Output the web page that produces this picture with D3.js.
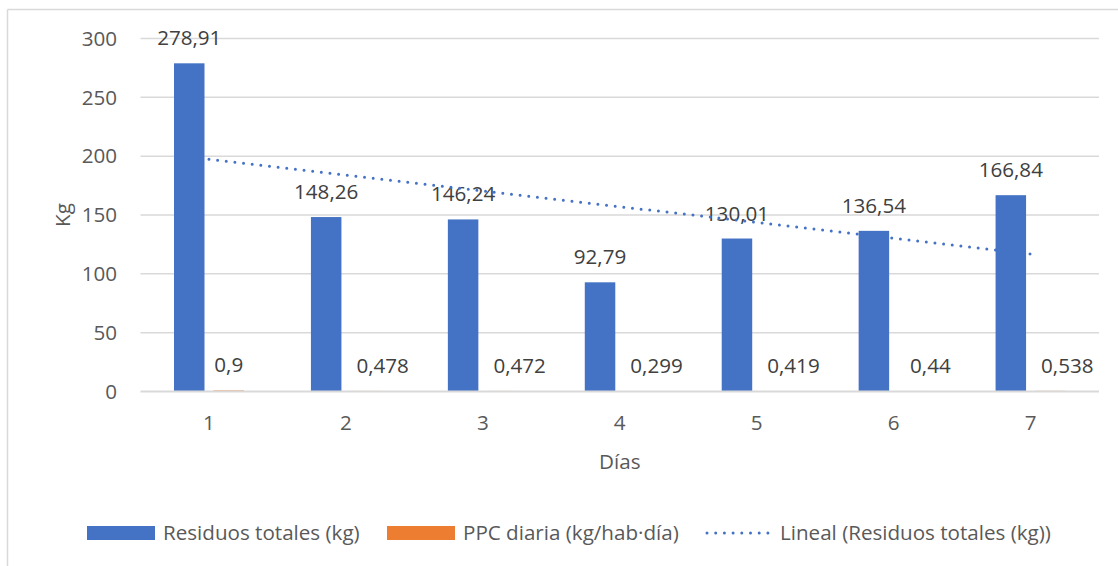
<!DOCTYPE html>
<html>
<head>
<meta charset="utf-8">
<script src="https://cdn.jsdelivr.net/npm/d3@7"></script>
<style>
  html, body { margin: 0; padding: 0; background: #fff; }
  svg { display: block; }
  text { font-family: "Open Sans", "Liberation Sans", sans-serif; fill: #595959; }
  text.lbl { fill: #404040; }
</style>
</head>
<body>
<svg id="chart" width="1118" height="566"></svg>
<script>
// ---- data ----
const days = ["1", "2", "3", "4", "5", "6", "7"];
const residuos = [278.91, 148.26, 146.24, 92.79, 130.01, 136.54, 166.84];
const ppc = [0.9, 0.478, 0.472, 0.299, 0.419, 0.44, 0.538];
const yTicks = [0, 50, 100, 150, 200, 250, 300];
const seriesNames = ["Residuos totales (kg)", "PPC diaria (kg/hab·día)"];
const trendName = "Lineal (Residuos totales (kg))";
const xTitle = "Días";
const yTitle = "Kg";

// ---- layout / style ----
const W = 1118, H = 566;
const plot = { left: 140.5, right: 1099, top: 38.5, bottom: 391.5 };
const blue = "#4472C4", orange = "#ED7D31", grid = "#D9D9D9";
const fs = 20.6;
// horizontal nudges of the PPC data labels as placed in the original chart
const ppcLabelDx = [0, 17, 17, 17, 17, 17, 17];

const svg = d3.select("#chart");

// chart frame (left and top edges visible)
svg.append("line").attr("x1", 7.5).attr("x2", 7.5).attr("y1", 9.5).attr("y2", H)
  .attr("stroke", grid).attr("stroke-width", 1.5);
svg.append("line").attr("x1", 7.5).attr("x2", W).attr("y1", 9.5).attr("y2", 9.5)
  .attr("stroke", grid).attr("stroke-width", 1.5);

const x = d3.scaleBand().domain(days).range([plot.left, plot.right]).padding(0);
const xs = d3.scaleBand().domain(seriesNames)
  .range([33.5, 103.5]).paddingInner(0.228).paddingOuter(0);
const y = d3.scaleLinear().domain([0, 300]).range([plot.bottom, plot.top]);

// gridlines (except baseline, drawn later above bars)
svg.append("g").selectAll("line").data(yTicks.filter(d => d !== 0)).join("line")
  .attr("x1", plot.left).attr("x2", plot.right)
  .attr("y1", d => y(d)).attr("y2", d => y(d))
  .attr("stroke", grid).attr("stroke-width", 1.5);

// y axis labels
const fmtTick = d3.format("d");
svg.append("g").selectAll("text").data(yTicks).join("text")
  .attr("x", 117).attr("y", d => y(d)).attr("dy", "0.35em")
  .attr("text-anchor", "end").attr("font-size", fs).text(d => fmtTick(d));

// x axis labels
svg.append("g").selectAll("text").data(days).join("text")
  .attr("x", d => x(d) + x.bandwidth() / 2).attr("y", 430)
  .attr("text-anchor", "middle").attr("font-size", fs).text(d => d);

// axis titles
svg.append("text").attr("x", (plot.left + plot.right) / 2).attr("y", 469)
  .attr("text-anchor", "middle").attr("font-size", fs).text(xTitle);
svg.append("text")
  .attr("transform", `translate(70,${(plot.top + plot.bottom) / 2}) rotate(-90)`)
  .attr("text-anchor", "middle").attr("font-size", fs).text(yTitle);

// bars
const series = [
  { name: seriesNames[0], values: residuos, color: blue, dx: days.map(() => 0) },
  { name: seriesNames[1], values: ppc, color: orange, dx: ppcLabelDx }
];
const fmtNum = v => String(v).replace(".", ",");

const barLayer = svg.append("g");
const labelLayer = svg.append("g");
series.forEach(s => {
  barLayer.append("g").selectAll("rect").data(days).join("rect")
    .attr("x", (d, i) => x(d) + xs(s.name))
    .attr("width", xs.bandwidth())
    .attr("y", (d, i) => y(s.values[i]))
    .attr("height", (d, i) => y(0) - y(s.values[i]))
    .attr("fill", s.color);
  labelLayer.append("g").selectAll("text").data(days).join("text")
    .attr("class", "lbl")
    .attr("x", (d, i) => x(d) + xs(s.name) + xs.bandwidth() / 2 + s.dx[i])
    .attr("y", (d, i) => y(s.values[i]) - 18)
    .attr("text-anchor", "middle").attr("font-size", fs)
    .text((d, i) => fmtNum(s.values[i]));
});

// category axis baseline on top of bars
svg.append("line").attr("x1", plot.left).attr("x2", plot.right)
  .attr("y1", y(0)).attr("y2", y(0))
  .attr("stroke", grid).attr("stroke-width", 2.2);

// linear trendline (least squares on residuos)
const xsIdx = days.map((d, i) => i + 1);
const mx = d3.mean(xsIdx), my = d3.mean(residuos);
const slope = d3.sum(xsIdx, (xi, i) => (xi - mx) * (residuos[i] - my)) /
              d3.sum(xsIdx, xi => (xi - mx) ** 2);
const icpt = my - slope * mx;
const first = days[0], last = days[days.length - 1];
const trendPts = [
  [x(first) + x.bandwidth() / 2, y(icpt + slope * 1)],
  [x(last) + x.bandwidth() / 2, y(icpt + slope * days.length)]
];
svg.append("path").attr("d", d3.line()(trendPts))
  .attr("fill", "none").attr("stroke", blue).attr("stroke-width", 3)
  .attr("stroke-linecap", "round").attr("stroke-dasharray", "0 8.7");

// legend
const ly = 533;
const lg = svg.append("g");
lg.append("rect").attr("x", 87).attr("y", ly - 7).attr("width", 68).attr("height", 14).attr("fill", blue);
lg.append("text").attr("x", 163).attr("y", ly).attr("dy", "0.35em").attr("font-size", fs).text(seriesNames[0]);
lg.append("rect").attr("x", 387).attr("y", ly - 7).attr("width", 68).attr("height", 14).attr("fill", orange);
lg.append("text").attr("x", 463).attr("y", ly).attr("dy", "0.35em").attr("font-size", fs).text(seriesNames[1]);
lg.append("line").attr("x1", 707).attr("x2", 769).attr("y1", ly).attr("y2", ly)
  .attr("stroke", blue).attr("stroke-width", 3).attr("stroke-linecap", "round")
  .attr("stroke-dasharray", "0 8.7");
lg.append("text").attr("x", 780).attr("y", ly).attr("dy", "0.35em").attr("font-size", fs).text(trendName);
</script>
</body>
</html>
